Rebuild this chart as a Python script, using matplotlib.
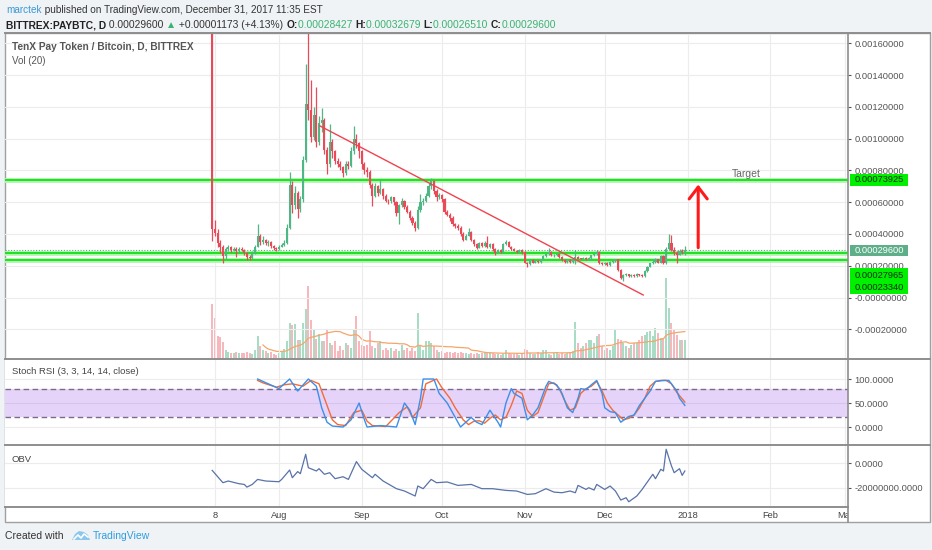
import numpy as np
import pandas as pd
import matplotlib
matplotlib.use("Agg")
import matplotlib.pyplot as plt
from matplotlib.patches import Rectangle, Polygon
from matplotlib.lines import Line2D
from matplotlib.text import Annotation

plt.rcParams['font.family'] = ['Liberation Sans', 'DejaVu Sans']

FW, FH = 932, 550

# ---- data (prices in satoshi, first candle = 2017-07-07) ----
start_date = np.datetime64('2017-07-07')
first_open_sat = 300000

close_sat = [
    43000, 40600, 34400, 32000, 26000, 30500, 31500, 30000, 30800, 29500,
    30500, 30000, 28000, 25500, 25000, 28000, 32000, 39000, 35000, 36000,
    34000, 35000, 32500, 31000, 30500, 32000, 33000, 34000, 44000, 71000,
    58000, 66000, 56000, 62000, 86800, 122000, 118000, 101000, 115000, 98000,
    110000, 112000, 93000, 84000, 98000, 92000, 86000, 84000, 82000, 78500,
    84000, 83000, 92000, 100000, 97000, 92000, 84000, 80000, 79000, 71000,
    64000, 70000, 66000, 68000, 64000, 61000, 60500, 63000, 60000, 53000,
    58000, 61000, 57000, 54000, 50000, 47000, 43500, 55000, 60000, 61000,
    64000, 70000, 73000, 67000, 63000, 64500, 62000, 54000, 52000, 50000,
    46000, 45000, 44000, 40000, 36500, 39000, 41500, 36500, 33500, 31400,
    34500, 32500, 34500, 31500, 33500, 30400, 28300, 30000, 28500, 33500,
    35000, 32000, 30500, 29500, 28500, 30000, 28500, 22000, 21000, 23500,
    22000, 23000, 22500, 24000, 26000, 27500, 28500, 26500, 26500, 27500,
    25500, 23500, 22500, 23500, 22500, 24000, 25500, 24500, 24400, 25000,
    24000, 24800, 26500, 27500, 28500, 22000, 21000, 22000, 20500, 22500,
    23000, 24000, 17500, 12500, 14000, 14500, 13300, 14300, 13500, 14500,
    14000, 13500, 16500, 19500, 21500, 22500, 24000, 22000, 26000, 21500,
    30400, 34000, 30000, 28000, 27000, 29500, 28427, 29600]

high_sat = [
    300000, 49000, 43000, 36000, 33000, 32000, 33000, 32500, 32000, 31500,
    31500, 31500, 30500, 28500, 27000, 29000, 33000, 46000, 40000, 38500,
    37000, 36000, 35500, 33000, 32000, 33000, 34500, 36000, 46000, 79000,
    73000, 70000, 67000, 64000, 89000, 147000, 175000, 137000, 120000, 132500,
    114000, 119000, 113000, 95000, 109000, 100000, 93000, 88000, 86000, 83000,
    86000, 86000, 95000, 108000, 103000, 98000, 93000, 85000, 82000, 80000,
    72000, 72000, 71000, 74000, 69000, 65000, 62000, 64000, 63500, 61000,
    59000, 62500, 61500, 58000, 55000, 51000, 48000, 57500, 65000, 62500,
    66000, 72000, 75000, 74000, 68000, 66000, 65000, 62500, 55000, 53000,
    51000, 47000, 46000, 45000, 41000, 40000, 44000, 42000, 37000, 34000,
    35000, 35000, 35500, 38700, 34500, 34000, 31000, 30500, 30500, 34500,
    36000, 35500, 32500, 31000, 30000, 30500, 30500, 29000, 22500, 24000,
    24000, 23500, 23500, 24500, 26500, 28000, 31000, 29000, 27500, 28000,
    28000, 26000, 24000, 24000, 24000, 25000, 30000, 26000, 25000, 25500,
    25500, 25500, 27000, 28000, 30000, 29000, 22500, 22500, 22500, 23000,
    23500, 24500, 24500, 18000, 15000, 15500, 15000, 15000, 14800, 15500,
    15000, 14500, 17000, 20000, 22000, 23500, 25000, 24500, 27000, 26500,
    32000, 40000, 39500, 31500, 29500, 30500, 30500, 32679]

low_sat = [
    35600, 39000, 32000, 28000, 22000, 24500, 29000, 28500, 29000, 25500,
    28500, 29000, 27000, 23500, 23500, 24500, 27500, 31500, 33000, 33500,
    33000, 32500, 31000, 30000, 29500, 30000, 31500, 32500, 33500, 43000,
    53000, 56000, 50000, 54000, 60000, 85000, 112000, 98000, 99000, 95000,
    96000, 104000, 90000, 78000, 82000, 88000, 84000, 82000, 80000, 76000,
    77000, 81000, 82000, 90000, 94000, 88000, 81000, 78000, 76000, 69000,
    57500, 63000, 64000, 65000, 62000, 60000, 59000, 59500, 58000, 51000,
    46000, 57000, 56000, 53000, 49000, 45500, 42000, 43000, 54000, 58500,
    60000, 63000, 68000, 65000, 61000, 62000, 60000, 52500, 51000, 48000,
    45000, 44000, 42500, 39000, 35500, 36000, 38500, 35500, 32500, 30500,
    31000, 32000, 32000, 31000, 31000, 29500, 27000, 28000, 28000, 28000,
    33000, 31500, 30000, 29000, 28000, 28000, 27500, 21500, 19500, 20500,
    21500, 21500, 22000, 22000, 23500, 25500, 27000, 26000, 25500, 26000,
    25000, 23000, 22000, 22000, 22000, 22000, 21000, 24000, 24000, 24000,
    23500, 23500, 24500, 26000, 27000, 21000, 20500, 20500, 20000, 20000,
    22000, 22500, 16500, 11500, 10500, 13500, 12800, 13000, 13000, 13000,
    13500, 13000, 13000, 16000, 19000, 21000, 22000, 21500, 21500, 21000,
    21000, 30000, 29500, 27000, 22000, 26500, 27500, 26510]

# volume (relative units)
volume = [
    55, 40, 22, 21, 16, 8, 6, 5, 5, 6,
    5, 5, 5, 6, 5, 4, 8, 22, 12, 8,
    7, 5, 6, 4, 3, 5, 6, 9, 17, 35,
    33, 34, 18, 18, 35, 49, 73, 38, 28, 19,
    24, 17, 17, 28, 15, 13, 17, 7, 12, 8,
    15, 13, 10, 28, 42, 17, 13, 12, 13, 27,
    12, 10, 15, 17, 8, 10, 8, 10, 7, 9,
    7, 13, 8, 10, 7, 10, 7, 45, 13, 8,
    17, 17, 15, 12, 8, 6, 7, 5, 6, 6,
    5, 6, 5, 6, 5, 5, 4, 5, 4, 5,
    4, 5, 6, 5, 6, 5, 4, 4, 3, 4,
    8, 5, 4, 4, 4, 3, 5, 9, 8, 5,
    4, 4, 6, 5, 8, 8, 4, 3, 5, 6,
    4, 5, 4, 5, 6, 7, 36, 15, 10, 12,
    15, 18, 18, 15, 22, 24, 12, 8, 10, 8,
    12, 28, 19, 18, 15, 12, 10, 13, 15, 15,
    18, 22, 23, 26, 27, 22, 30, 25, 20, 20,
    81, 50, 35, 28, 23, 18, 18, 18]

# Stoch RSI %K / %D (day index, value)
stoch_k_day = [17, 23, 25, 29, 32, 36, 39, 41, 43, 45, 49, 52, 55, 57, 58, 63, 69, 72, 74, 76,
               78, 79, 83, 85, 88, 90, 93, 94, 97, 99, 101, 103, 104, 107, 108, 110, 112, 113, 116, 118,
               120, 122, 125, 126, 129, 131, 133, 135, 137, 138, 140, 142, 144, 146, 147, 149, 151, 153, 156, 158,
               160, 164, 166, 169, 171, 174, 175, 177]
stoch_k = [100, 85, 80, 100, 75, 100, 85, 40, 10, 2, 0, 15, 50, 15, 0, 3, 0, 50, 35, 5,
           60, 100, 100, 70, 50, 30, 0, 5, 20, 10, 5, 25, 35, 10, 0, 50, 80, 70, 60, 15,
           25, 40, 85, 95, 88, 70, 40, 30, 60, 80, 78, 88, 97, 70, 40, 32, 30, 10, 22, 25,
           45, 75, 95, 97, 97, 75, 60, 45]
stoch_d_day = [17, 19, 24, 27, 30, 34, 37, 40, 43, 45, 47, 50, 53, 56, 58, 60, 65, 70, 73, 75,
               78, 80, 84, 86, 89, 91, 94, 96, 98, 100, 102, 104, 106, 108, 110, 112, 114, 116, 118, 120,
               122, 124, 126, 128, 130, 132, 134, 136, 138, 140, 142, 144, 146, 148, 150, 152, 154, 156, 158, 160,
               162, 164, 166, 168, 170, 172, 174, 177]
stoch_d = [97, 92, 83, 88, 90, 85, 97, 90, 45, 15, 5, 3, 30, 35, 12, 3, 1, 30, 42, 20,
           40, 90, 100, 82, 60, 40, 15, 5, 12, 13, 8, 18, 25, 15, 20, 45, 75, 70, 35, 22,
           30, 60, 90, 92, 80, 55, 35, 40, 70, 80, 85, 95, 75, 50, 35, 25, 15, 18, 25, 40,
           60, 85, 95, 97, 97, 90, 72, 52]

# OBV (day index, millions)
obv_day = [0, 4, 6, 10, 12, 13, 15, 17, 20, 25, 26, 29, 30, 32, 33, 35, 36, 39, 40, 42,
           44, 46, 49, 51, 54, 56, 60, 61, 64, 69, 72, 76, 77, 79, 82, 84, 88, 92, 97, 101,
           105, 110, 114, 118, 121, 125, 128, 131, 134, 136, 137, 140, 141, 143, 144, 147, 149, 151, 153, 155,
           156, 159, 161, 165, 166, 168, 169, 170, 172, 173, 175, 176, 177]
obv_m = [-5.8, -15.9, -14.5, -16.7, -17.3, -19.5, -17.3, -13.2, -14.5, -15.1,
         -13.2, -5.5, -11.8, -6.8, -8.5, 7.4, -3.6, -6.3, -4.4, -9.0,
         -7.7, -12.6, -11.0, -13.2, 1.4, -4.9, -11.8, -9.0, -14.5, -20.8,
         -22.7, -26.8, -18.6, -20.8, -13.2, -15.9, -15.3, -18.1, -17.3, -20.8,
         -20.8, -22.2, -22.7, -25.5, -24.9, -20.8, -23.6, -24.1, -22.7, -24.1,
         -18.1, -21.4, -20.0, -21.9, -17.3, -21.4, -18.6, -22.7, -30.1, -28.2,
         -31.5, -26.8, -21.4, -9.0, -12.6, -4.9, -6.3, 11.5, -2.2, -7.7,
         -4.4, -9.9, -6.3]

# drawings
level_lines = [0.00073925, 0.00027965, 0.00023340]
last_price = 0.00029600
trend_days = [40.3, 161.4]
trend_prices = [0.00108, 0.0000158]
arrow_day = 182
target_day = 194.6

tick_dates = ['2017-07-08', '2017-08-01', '2017-09-01', '2017-10-01', '2017-11-01',
              '2017-12-01', '2018-01-01', '2018-02-01', '2018-03-01']
tick_labels = ['8', 'Aug', 'Sep', 'Oct', 'Nov', 'Dec', '2018', 'Feb', 'Mar']

price_ticks = [-0.0002, 0.0, 0.0002, 0.0004, 0.0006, 0.0008, 0.0010, 0.0012, 0.0014, 0.0016]
price_labels = ['-0.00020000', '-0.00000000', '0.00020000', '0.00040000', '0.00060000',
                '0.00080000', '0.00100000', '0.00120000', '0.00140000', '0.00160000']

# ---- prepare ----
closes = np.array(close_sat) * 1e-8
highs = np.array(high_sat) * 1e-8
lows = np.array(low_sat) * 1e-8
opens = np.r_[first_open_sat * 1e-8, closes[:-1]]
days = np.arange(len(closes))
up = closes >= opens
vol = np.array(volume, dtype=float)
vol_ma = pd.Series(vol).rolling(20).mean()
tick_days = [(np.datetime64(d) - start_date).astype(int) for d in tick_dates]

UP, DN = '#4fb784', '#ea4a58'
UPV, DNV = '#a9dcc4', '#f6b7bd'
XLIM = (-77.6, 238.1)


def fx(px):
    return px / FW


def fy(py):
    return 1 - py / FH


def rect(x0, y0, x1, y1):
    return [fx(x0), fy(y1), (x1 - x0) / FW, (y1 - y0) / FH]


def style_pane(a):
    a.set_xlim(XLIM)
    a.set_xticks(tick_days)
    a.tick_params(axis='x', length=0, labelbottom=False)
    a.yaxis.tick_right()
    a.tick_params(axis='y', labelsize=6.7, colors='#555555', length=2.5, pad=2, width=0.8)
    a.grid(True, color='#ececec', lw=0.8)
    a.set_axisbelow(True)
    for s in a.spines.values():
        s.set_visible(False)


fig = plt.figure(figsize=(FW / 100, FH / 100), dpi=100, facecolor='#f0f3f6')
fig.patches.append(Rectangle((fx(5), fy(522)), 925 / FW, 489 / FH, transform=fig.transFigure,
                             facecolor='white', edgecolor='#a0a0a0', lw=1.0, zorder=-5))

# volume (behind candles)
axv = fig.add_axes(rect(5, 33, 848, 359), zorder=0)
axv.set_xlim(XLIM)
axv.set_ylim(-1, 328)
axv.axis('off')
axv.bar(days, vol, width=0.75, color=np.where(up, UPV, DNV), lw=0)
axv.plot(days, vol_ma, color='#f5a66a', lw=0.9)

# price pane
ax = fig.add_axes(rect(5, 33, 848, 359), zorder=1)
ax.patch.set_alpha(0)
style_pane(ax)
ax.set_ylim(-0.000387, 0.0016645)
ax.set_yticks(price_ticks)
ax.set_yticklabels(price_labels)

for lv in level_lines:
    ax.axhline(lv, color='#b5f5b5', lw=3.5, zorder=1.6)
    ax.axhline(lv, color='#22e022', lw=1.5, zorder=1.7)
ax.axhline(last_price, color='#4fb07f', lw=0.8, ls=(0, (1, 1.5)), zorder=1.8)

col = np.where(up, UP, DN)
ax.vlines(days, lows, highs, colors=col, lw=0.9, zorder=2)
body = np.maximum(np.abs(closes - opens), 0.0000025)
ax.bar(days, body, bottom=np.minimum(opens, closes), width=0.78, color=col, lw=0, zorder=3)

ax.plot(trend_days, trend_prices, color='#f0434f', lw=1.0, zorder=5)
ax.annotate('', xy=(arrow_day, 0.000728), xytext=(arrow_day, last_price),
            arrowprops=dict(arrowstyle='->,head_length=0.85,head_width=0.65', color='#ff1a1a', lw=2.2),
            zorder=6, annotation_clip=False)
ax.text(target_day, 0.00078, 'Target', fontsize=7.5, color='#666666', va='center', ha='left')

# stoch rsi pane
ax2 = fig.add_axes(rect(5, 359, 848, 445), zorder=1)
style_pane(ax2)
ax2.set_ylim(-37.5, 141.7)
ax2.set_yticks([0, 50, 100])
ax2.set_yticklabels(['0.0000', '50.0000', '100.0000'])
ax2.axhspan(20, 80, color='#e5d3f9', lw=0, zorder=0.6)
ax2.axhline(50, color='#d7c4ee', lw=0.8, zorder=0.7)
for lv in (20, 80):
    ax2.axhline(lv, color='#7a6a8c', lw=1.0, ls=(0, (4, 2.5)), zorder=1)
ax2.plot(stoch_d_day, stoch_d, color='#f26b3a', lw=1.0, zorder=3)
ax2.plot(stoch_k_day, stoch_k, color='#3d8fe8', lw=1.0, zorder=4)

# obv pane
ax3 = fig.add_axes(rect(5, 445, 848, 507), zorder=1)
style_pane(ax3)
ax3.set_ylim(-35.8e6, 15e6)
ax3.set_yticks([-20e6, 0])
ax3.set_yticklabels(['-20000000.0000', '0.0000'])
ax3.plot(obv_day, np.array(obv_m) * 1e6, color='#5873a8', lw=0.9)

# date strip
ax4 = fig.add_axes(rect(5, 507, 848, 522), zorder=1)
ax4.set_xlim(XLIM)
ax4.set_ylim(0, 1)
ax4.axis('off')
for d, lab in zip(tick_days, tick_labels):
    ax4.text(d, 0.4, lab, fontsize=6.7, color='#444444', ha='center', va='center', clip_on=True)

# separators
for y in (33, 359, 445):
    fig.add_artist(Line2D([fx(5), fx(930)], [fy(y), fy(y)], color='#8e8e8e', lw=1.4))
fig.add_artist(Line2D([fx(5), fx(848)], [fy(507), fy(507)], color='#8e8e8e', lw=1.4))
fig.add_artist(Line2D([fx(848), fx(848)], [fy(33), fy(522)], color='#8e8e8e', lw=1.2))


# price labels on the scale
def scale_box(py0, py1, face):
    fig.add_artist(Rectangle((fx(850), fy(py1)), 58 / FW, (py1 - py0) / FH, transform=fig.transFigure,
                             facecolor=face, edgecolor='none', zorder=2))


scale_box(174, 186, '#00f000')
scale_box(245, 256, '#5eae8a')
scale_box(268, 294, '#00f000')
fig.text(fx(855), fy(180), f'{level_lines[0]:.8f}', fontsize=6.7, color='#0b2e0b', va='center', zorder=3)
fig.text(fx(855), fy(250.5), f'{last_price:.8f}', fontsize=6.7, color='white', va='center', zorder=3)
fig.text(fx(855), fy(275), f'{level_lines[1]:.8f}', fontsize=6.7, color='#0b2e0b', va='center', zorder=3)
fig.text(fx(855), fy(287), f'{level_lines[2]:.8f}', fontsize=6.7, color='#0b2e0b', va='center', zorder=3)

# pane titles
fig.text(fx(12), fy(47), 'TenX Pay Token / Bitcoin, D, BITTREX', fontsize=7.3, fontweight='bold',
         color='#555555', va='center')
fig.text(fx(12), fy(61), 'Vol (20)', fontsize=7.0, color='#555555', va='center')
fig.text(fx(12), fy(371.5), 'Stoch RSI (3, 3, 14, 14, close)', fontsize=6.8, color='#444444', va='center')
fig.text(fx(12), fy(460), 'OBV', fontsize=6.8, color='#444444', va='center')


# header
def rainbow(x_px, y_px, parts, size):
    s, c, w = parts[0]
    prev = fig.text(fx(x_px), fy(y_px), s, color=c, fontweight=w, fontsize=size, va='bottom')
    for s, c, w in parts[1:]:
        prev = fig.add_artist(Annotation(s, xy=(1, 0), xycoords=prev, va='bottom', ha='left',
                                         color=c, fontweight=w, fontsize=size))


G = '#3cb371'
chg = closes[-1] - closes[-2]
pct = chg / closes[-2] * 100
rainbow(6, 15, [('marctek', '#3a98d8', 'normal'),
                (' published on TradingView.com, December 31, 2017 11:35 EST', '#333333', 'normal')], 7.2)
rainbow(6, 30, [('BITTREX:PAYBTC, D', '#222222', 'bold'),
                (f' {closes[-1]:.8f} ', '#333333', 'normal'),
                ('\u25b2', G, 'normal'),
                (f' +{chg:.8f} (+{pct:.2f}%) ', '#333333', 'normal'),
                ('O:', '#222222', 'bold'), (f'{opens[-1]:.8f} ', G, 'normal'),
                ('H:', '#222222', 'bold'), (f'{highs[-1]:.8f} ', G, 'normal'),
                ('L:', '#222222', 'bold'), (f'{lows[-1]:.8f} ', G, 'normal'),
                ('C:', '#222222', 'bold'), (f'{closes[-1]:.8f}', G, 'normal')], 7.4)

# footer
fig.text(fx(5), fy(536), 'Created with', fontsize=7.5, color='#333333', va='center')
fig.add_artist(Polygon([(fx(72), fy(540)), (fx(75), fy(534)), (fx(79), fy(531)), (fx(84), fy(532)),
                        (fx(88), fy(535)), (fx(90), fy(540))], closed=True, transform=fig.transFigure,
                       facecolor='#8cc8ee', edgecolor='none'))
fig.add_artist(Line2D([fx(74), fx(78), fx(81), fx(84), fx(88)], [fy(539), fy(535), fy(538), fy(534), fy(537)],
                      color='white', lw=1.2))
fig.text(fx(93), fy(536), 'TradingView', fontsize=7.5, color='#2f9de0', va='center')

fig.savefig('out.png', dpi=100, facecolor=fig.get_facecolor())
